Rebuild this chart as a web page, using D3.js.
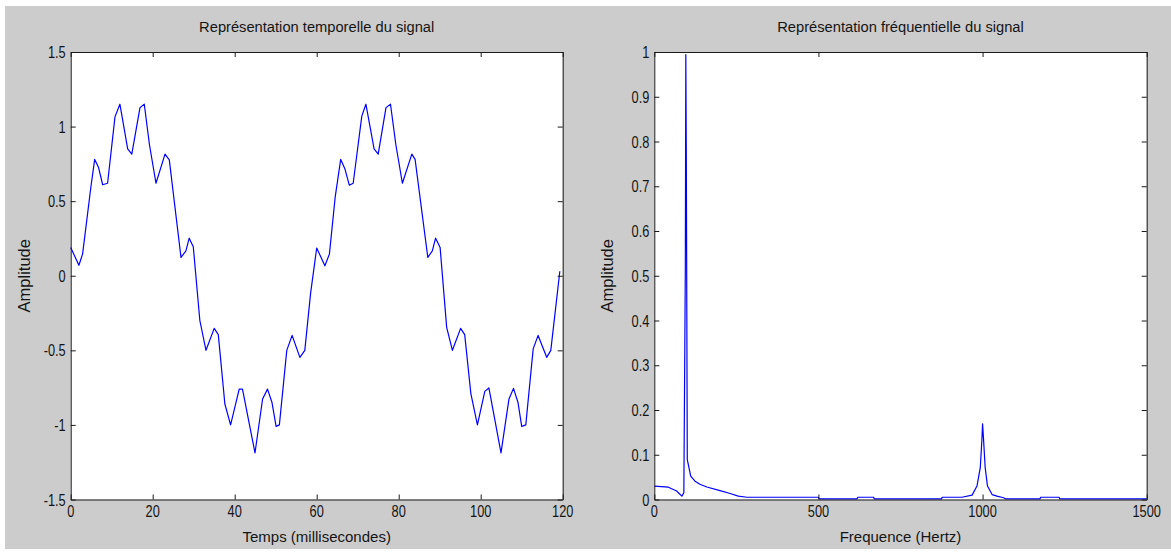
<!DOCTYPE html>
<html>
<head>
<meta charset="utf-8">
<script src="https://cdn.jsdelivr.net/npm/d3@7"></script>
<style>
  body { margin: 0; background: #fff; }
  svg text { font-family: "Liberation Sans", Arial, sans-serif; fill: #151515; }
</style>
</head>
<body>
<svg id="fig" width="1171" height="552"></svg>
<script>
// --- data ---
// time signal (ms, amplitude)
var timeMs = [0, 2.0, 2.9, 4.9, 5.85, 6.8, 7.8, 9.0, 10.8, 12.0, 13.9, 14.9, 16.9, 17.95, 19.2, 20.8,
    23.0, 24.05, 26.9, 28.1, 28.9, 29.9, 31.5, 33.0, 35.0, 36.0, 37.6, 39.0, 41.1, 41.9, 44.95,
    46.8, 48.0, 49.1, 50.1, 50.9, 52.7, 54.0, 55.9, 57.1, 58.5, 60.0,
    62.0, 63.1, 64.5, 65.85, 66.9, 67.95, 68.9, 71.0, 72.0, 74.0, 75.0, 76.9, 78.0, 79.3, 80.9,
    83.2, 84.0, 87.1, 88.2, 89.0, 90.1, 91.7, 93.1, 95.1, 96.1, 97.6, 99.2, 101.0, 102.0, 104.95,
    106.9, 108.0, 109.1, 110.0, 111.0, 112.8, 114.0, 116.1, 117.1, 119.3];
var timeAmp = [0.19, 0.07, 0.145, 0.59, 0.78, 0.725, 0.61, 0.62, 1.065, 1.15, 0.85, 0.815, 1.127, 1.15, 0.88, 0.62,
    0.815, 0.777, 0.123, 0.167, 0.252, 0.194, -0.30, -0.50, -0.353, -0.395, -0.86, -1.0, -0.76, -0.76, -1.188,
    -0.826, -0.76, -0.85, -1.01, -1.0, -0.50, -0.40, -0.547, -0.50, -0.12, 0.186,
    0.067, 0.145, 0.525, 0.78, 0.715, 0.607, 0.62, 1.07, 1.15, 0.85, 0.815, 1.127, 1.15, 0.88, 0.62,
    0.815, 0.78, 0.123, 0.167, 0.252, 0.19, -0.346, -0.50, -0.353, -0.395, -0.79, -1.0, -0.775, -0.752, -1.188,
    -0.826, -0.755, -0.85, -1.01, -1.0, -0.49, -0.40, -0.547, -0.50, 0.03];

// spectrum (Hz, amplitude)
var freqHz = [0, 43, 68, 84, 90, 94.5, 96, 97.5, 100.5, 111, 124, 139, 160, 200, 231, 256, 282, 500, 502,
    618, 620, 668, 670, 875, 877, 937, 968, 983, 993, 998, 1000, 1003, 1008, 1015, 1029, 1044, 1064,
    1070, 1175, 1177, 1233, 1235, 1500];
var freqAmp = [0.030, 0.0275, 0.019, 0.0075, 0.015, 0.515, 0.994, 0.768, 0.089, 0.052, 0.041, 0.034, 0.028,
    0.020, 0.0134, 0.0075, 0.005, 0.005, 0.0015, 0.0015, 0.005, 0.005, 0.0015, 0.0015, 0.005, 0.005,
    0.0097, 0.030, 0.071, 0.134, 0.169, 0.134, 0.071, 0.030, 0.011, 0.0075, 0.004, 0.0015, 0.0015,
    0.005, 0.005, 0.0015, 0.0015];

var timeTicks = [0, 20, 40, 60, 80, 100, 120];
var timeAmpTicks = [-1.5, -1, -0.5, 0, 0.5, 1, 1.5];
var freqTicks = [0, 500, 1000, 1500];
var specTicks = [0, 0.1, 0.2, 0.3, 0.4, 0.5, 0.6, 0.7, 0.8, 0.9, 1];

var svg = d3.select("#fig");

// grey figure background (white strip on top/left like the screenshot)
svg.append("rect").attr("x", 5).attr("y", 6).attr("width", 1166).attr("height", 543)
    .attr("fill", "#cccccc");

var top_ = 52, bottom = 499.5, tick = 5;

function panel(o) {
    var x = d3.scaleLinear().domain(o.xDomain).range([o.left, o.right]);
    var y = d3.scaleLinear().domain(o.yDomain).range([bottom, top_]);
    var g = svg.append("g");

    g.append("rect")
        .attr("x", o.left).attr("y", top_)
        .attr("width", o.right - o.left).attr("height", bottom - top_)
        .attr("fill", "#fff");

    var line = d3.line()
        .x(function (d) { return x(d[0]); })
        .y(function (d) { return y(d[1]); });
    g.append("path")
        .datum(d3.zip(o.xs, o.ys))
        .attr("fill", "none")
        .attr("stroke", "#0000ff")
        .attr("stroke-width", 1.2)
        .attr("stroke-linejoin", "round")
        .attr("d", line);

    // box with inward ticks on all four sides
    var axes = [
        [d3.axisBottom(x), "translate(0," + bottom + ")", o.xTicks],
        [d3.axisTop(x), "translate(0," + top_ + ")", o.xTicks],
        [d3.axisLeft(y), "translate(" + o.left + ",0)", o.yTicks],
        [d3.axisRight(y), "translate(" + o.right + ",0)", o.yTicks]
    ];
    axes.forEach(function (a) {
        var ax = g.append("g").attr("transform", a[1])
            .call(a[0].tickValues(a[2]).tickSizeInner(-tick).tickSizeOuter(0).tickFormat(""));
        ax.select(".domain").attr("stroke", "#1a1a1a");
        ax.selectAll(".tick line").attr("stroke", "#1a1a1a");
    });

    // tick labels (narrow digits as in the screenshot)
    g.selectAll(".xl").data(o.xTicks).enter().append("text")
        .attr("transform", function (d) { return "translate(" + x(d) + ",516.5) scale(0.8,1)"; })
        .attr("text-anchor", "middle")
        .style("font-size", "16px")
        .text(function (d) { return d; });
    g.selectAll(".yl").data(o.yTicks).enter().append("text")
        .attr("transform", function (d) { return "translate(" + (o.left - 5) + "," + (y(d) + 6) + ") scale(0.8,1)"; })
        .attr("text-anchor", "end")
        .style("font-size", "16px")
        .text(function (d) { return d; });

    var cx = (o.left + o.right) / 2;
    g.append("text").attr("x", cx).attr("y", 32)
        .attr("text-anchor", "middle").style("font-size", "14.7px").text(o.title);
    g.append("text").attr("x", cx).attr("y", 542)
        .attr("text-anchor", "middle").style("font-size", "15px").text(o.xLabel);
    g.append("text")
        .attr("transform", "translate(" + (o.left - 41) + "," + ((top_ + bottom) / 2) + ") rotate(-90)")
        .attr("text-anchor", "middle").style("font-size", "16.5px").text("Amplitude");
}

panel({
    left: 70.7, right: 562.7,
    xDomain: [0, 120], yDomain: [-1.5, 1.5],
    xTicks: timeTicks, yTicks: timeAmpTicks,
    xs: timeMs, ys: timeAmp,
    title: "Représentation temporelle du signal",
    xLabel: "Temps (millisecondes)"
});

panel({
    left: 654.3, right: 1146.7,
    xDomain: [0, 1500], yDomain: [0, 1],
    xTicks: freqTicks, yTicks: specTicks,
    xs: freqHz, ys: freqAmp,
    title: "Représentation fréquentielle du signal",
    xLabel: "Frequence (Hertz)"
});
</script>
</body>
</html>
